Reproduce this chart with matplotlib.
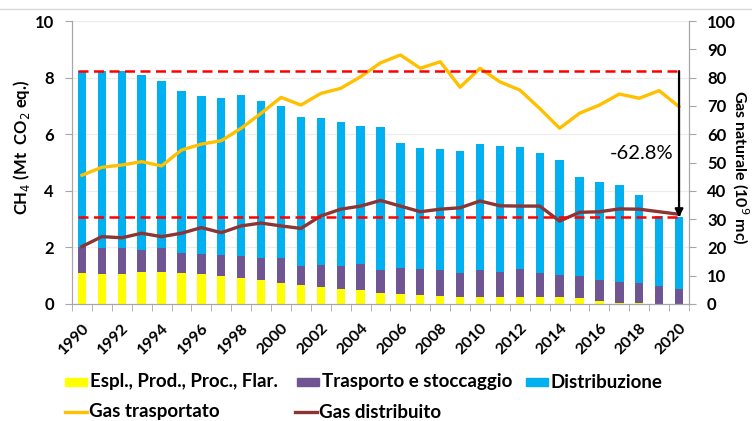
import numpy as np
import matplotlib
matplotlib.use("Agg")
import matplotlib.pyplot as plt
from matplotlib.patches import Rectangle
from matplotlib.lines import Line2D

plt.rcParams['font.family'] = ['Lato', 'DejaVu Sans']

# data
years = list(range(1990, 2021))
espl = [1.08, 1.06, 1.06, 1.12, 1.14, 1.11, 1.05, 0.98, 0.93, 0.84, 0.75,
        0.68, 0.61, 0.54, 0.48, 0.39, 0.34, 0.31, 0.28, 0.25, 0.26, 0.26,
        0.26, 0.25, 0.24, 0.21, 0.09, 0.05, 0.02, 0.0, 0.0]
espl_trasp = [2.00, 1.98, 1.99, 1.92, 1.97, 1.81, 1.76, 1.72, 1.68, 1.61, 1.61,
              1.33, 1.39, 1.33, 1.42, 1.21, 1.26, 1.24, 1.20, 1.10, 1.20, 1.13,
              1.24, 1.11, 1.01, 0.98, 0.85, 0.77, 0.73, 0.62, 0.54]
total = [8.23, 8.23, 8.23, 8.08, 7.88, 7.54, 7.36, 7.28, 7.37, 7.18, 7.00,
         6.62, 6.56, 6.43, 6.30, 6.26, 5.68, 5.50, 5.48, 5.41, 5.65, 5.58,
         5.54, 5.35, 5.08, 4.50, 4.30, 4.19, 3.85, 3.10, 3.06]
gas_trasportato = [45.5, 48.3, 49.1, 50.3, 48.8, 54.4, 56.5, 57.7, 62.1, 67.4, 73.0,
                   70.3, 74.4, 76.2, 80.3, 85.2, 88.0, 83.3, 85.6, 76.6, 83.3, 78.5,
                   75.6, 69.1, 62.1, 67.4, 70.3, 74.2, 72.7, 75.4, 69.7]
gas_distribuito = [20.3, 23.8, 23.4, 25.0, 23.8, 25.0, 27.0, 25.2, 27.6, 28.6, 27.6,
                   26.7, 31.1, 33.5, 34.6, 36.6, 34.6, 32.6, 33.5, 34.0, 36.4, 34.7,
                   34.6, 34.6, 29.3, 32.4, 32.6, 33.6, 33.5, 32.6, 31.7]
bar_labels = ['Espl., Prod., Proc., Flar.', 'Trasporto e stoccaggio', 'Distribuzione']
line_labels = ['Gas trasportato', 'Gas distribuito']

c_bars = ['#FFFF00', '#6F5592', '#00B0F0']
c_lines = ['#FFC000', '#8B3535']

espl = np.array(espl)
trasp = np.array(espl_trasp) - espl
distr = np.array(total) - np.array(espl_trasp)
x = np.arange(len(years))

W, H = 752, 421
fig = plt.figure(figsize=(W/100, H/100), dpi=100)
ax = fig.add_axes([72/W, 1 - 304/H, (689 - 72)/W, (304 - 21)/H])
ax2 = ax.twinx()

w = 0.42
ax.bar(x, espl, w, color=c_bars[0], zorder=2)
ax.bar(x, trasp, w, bottom=espl, color=c_bars[1], zorder=2)
ax.bar(x, distr, w, bottom=espl + trasp, color=c_bars[2], zorder=2)

ax2.plot(x, gas_trasportato, color=c_lines[0], lw=2.4, zorder=3)
ax2.plot(x, gas_distribuito, color=c_lines[1], lw=2.4, zorder=3)

# reference levels and reduction arrow (right axis is x10 the left one)
for lvl in (total[0], total[-1]):
    ax2.plot([-w/2, x[-1]], [lvl*10, lvl*10], color='#FF0000', lw=1.8,
             ls=(0, (4, 2.2)), zorder=4)
ax2.annotate('', xy=(x[-1], total[-1]*10), xytext=(x[-1], total[0]*10),
             arrowprops=dict(arrowstyle='-|>', color='black', lw=1.6,
                             mutation_scale=12, shrinkA=0, shrinkB=0), zorder=5)
ax2.text(x[-1] - 0.3, 53.2, '-62.8%', ha='right', va='center', fontsize=14.5)

ax.set_xlim(-0.5, len(years) - 0.5)
ax.set_ylim(0, 10)
ax2.set_ylim(0, 100)
ax.set_yticks(range(0, 11, 2))
ax2.set_yticks(range(0, 101, 10))

ax.set_xticks(x[::2])
ax.set_xticklabels([str(y) for y in years[::2]], rotation=45, ha='right',
                   rotation_mode='anchor', fontsize=11.5, fontweight='bold')
ax.set_xticks(np.arange(-0.5, len(years), 1), minor=True)
ax.tick_params(axis='x', which='major', length=0, pad=12)
ax.tick_params(axis='x', which='minor', length=5, color='#a6a6a6')
ax.tick_params(axis='y', length=5, color='#a6a6a6', labelsize=12, pad=8)
ax2.tick_params(axis='y', length=5, color='#a6a6a6', labelsize=12, pad=8)
for lab in ax.get_yticklabels() + ax2.get_yticklabels():
    lab.set_fontweight('bold')

ax.grid(axis='y', color='#ececec', lw=0.8, zorder=0)
ax.set_axisbelow(True)
for a in (ax, ax2):
    a.spines['top'].set_visible(False)
    for s in ('left', 'right', 'bottom'):
        a.spines[s].set_color('#a6a6a6')

ax.set_ylabel('CH$_4$ (Mt  CO$_2$ eq.)', fontsize=12, fontweight='bold')
ax.yaxis.set_label_coords((32 - 72)/617, (304 - 147)/283)
# right axis title, placed where the original has it
fig.text(740/W, 1 - 167/H, 'Gas naturale (10$^9$ mc)', rotation=270,
         ha='center', va='center', fontsize=11.5, fontweight='bold')

# light rule at the top (cropped header)
fig.add_artist(Line2D([0, 1], [1 - 9/H]*2, color='#d9d9d9', lw=1))

# legend, laid out like the original two rows
for col, lab, x0 in zip(c_bars, bar_labels, [65, 297, 526]):
    fig.add_artist(Rectangle((x0/W, 1 - 386/H), 22/W, 8/H, color=col,
                             transform=fig.transFigure))
    fig.text((x0 + 25)/W, 1 - 382/H, lab, va='center', fontsize=13.5, fontweight='bold')
for col, lab, x0 in zip(c_lines, line_labels, [65, 295]):
    fig.add_artist(Line2D([x0/W, (x0 + 22)/W], [1 - 412/H]*2, color=col, lw=2.4,
                          transform=fig.transFigure))
    fig.text((x0 + 24)/W, 1 - 412/H, lab, va='center', fontsize=13.5, fontweight='bold')

fig.savefig('out.png', dpi=100)
